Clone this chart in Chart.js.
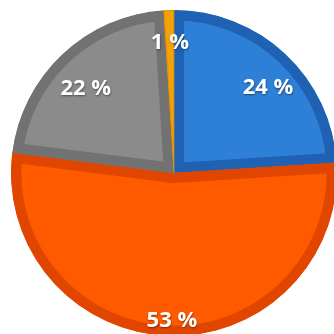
<!DOCTYPE html>
<html>
<head>
<meta charset="utf-8">
<script src="https://cdn.jsdelivr.net/npm/chart.js@4"></script>
<style>
  html, body { margin: 0; padding: 0; background: #fff; overflow: hidden; width: 334px; height: 334px; }
  #wrap { position: absolute; left: 11px; top: 10px; width: 326px; height: 326px; }
</style>
</head>
<body>
<div id="wrap"><canvas id="pieChart"></canvas></div>
<script>
const categories = ['Blue', 'Orange', 'Gray', 'Yellow'];
const shares = [24, 53, 22, 1];

const fillColors = ['#2e7fd8', '#ff5a00', '#8b8b8b', '#f4a20c'];
const edgeColors = ['#1f62b4', '#e04600', '#727272', '#e89500'];
const edgeWidths = [10, 10, 10, 1];
// label placement: fraction of the radius, and a small turn (degrees) off the slice's middle
const labelDepth = [0.78, 0.905, 0.75, 0.80];
const labelTurn = [4.5, -1, -3, 0];

const percentLabels = {
  id: 'percentLabels',
  afterDatasetsDraw(chart) {
    const ctx = chart.ctx;
    const meta = chart.getDatasetMeta(0);
    ctx.save();
    ctx.font = 'bold 22px "Open Sans", "Liberation Sans", sans-serif';
    ctx.fillStyle = '#ffffff';
    ctx.textAlign = 'center';
    ctx.textBaseline = 'middle';
    ctx.shadowColor = 'rgba(0,0,0,0.45)';
    ctx.shadowBlur = 2;
    ctx.shadowOffsetX = 0.5;
    ctx.shadowOffsetY = 1;
    meta.data.forEach((arc, i) => {
      const p = arc.getProps(['x', 'y', 'startAngle', 'endAngle', 'outerRadius'], true);
      const mid = (p.startAngle + p.endAngle) / 2 + labelTurn[i] * Math.PI / 180;
      const r = p.outerRadius * labelDepth[i];
      ctx.fillText(shares[i] + ' %', p.x + Math.cos(mid) * r, p.y + Math.sin(mid) * r);
    });
    ctx.restore();
  }
};

new Chart(document.getElementById('pieChart'), {
  type: 'pie',
  data: {
    labels: categories,
    datasets: [{
      data: shares,
      backgroundColor: fillColors,
      borderColor: edgeColors,
      borderWidth: edgeWidths,
      borderAlign: 'inner'
    }]
  },
  options: {
    responsive: true,
    maintainAspectRatio: false,
    animation: false,
    layout: { padding: 0 },
    plugins: {
      legend: { display: false },
      tooltip: { enabled: false }
    }
  },
  plugins: [percentLabels]
});
</script>
</body>
</html>
